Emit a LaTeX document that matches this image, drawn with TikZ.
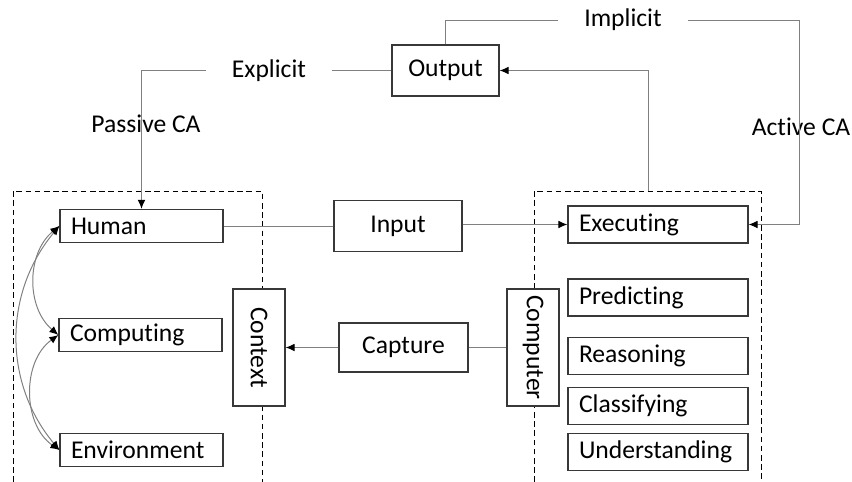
\documentclass[tikz,border=0pt]{standalone}
\usepackage{fontspec}
\setmainfont[Ligatures=NoCommon]{Carlito}
\usepackage{xcolor}
\usetikzlibrary{
	arrows.meta,    % punte Latex
	calc
}
\definecolor{boxgray}{gray}{0.22}
\definecolor{linegray}{gray}{0.5}

\begin{document}
\begin{tikzpicture}[
	x=0.5pt, y=-0.5pt,
	>={Latex[length=4.5pt,width=3.8pt,color=black]},
	font=\fontsize{12.8}{15}\selectfont,
	box/.style={draw=boxgray, line width=0.6pt, fill=white, inner sep=0pt, align=center},
	leftbox/.style={box, text width=70.5pt, align=left, inner xsep=5.5pt, minimum height=16.5pt},
	rightbox/.style={box, text width=79pt, align=left, inner xsep=5.5pt, minimum height=18.5pt},
	vbox/.style={box, rotate=-90, minimum width=58.5pt, minimum height=26pt},
	link/.style={draw=linegray, line width=0.5pt},
	area/.style={line width=0.5pt, dash pattern=on 2.8pt off 1.8pt},
	gap_label/.style={inner xsep=13pt, inner ysep=2pt}
	]
	
	\useasboundingbox (0,0) rectangle (852,482);
	
	% --- Aree tratteggiate ---
	\draw[area] (13,482) -- (13,191) -- (262,191) -- (262,482);
	\draw[area] (534,482) -- (534,191) -- (761,191) -- (761,482);
	
	% --- Lato sinistro ---
	\node[leftbox] (human) at (141.5,226) {Human};
	\node[leftbox] (computing) at (140.5,335) {Computing};
	\node[leftbox] (environment) at (141.5,450) {Environment};
	\node[vbox] (context) at (259,347.5) {Context};
	
	% --- Centro ---
	\node[box, minimum width=64pt, minimum height=25.5pt] (input) at (398,226) {Input};
	\node[box, minimum width=64.5pt, minimum height=24.5pt] (capture) at (403.5,347.5) {Capture};
	\node[box, minimum width=53.5pt, minimum height=25.5pt] (output) at (445.5,70.5) {Output};
	
	% --- Lato destro ---
	\node[vbox] (computer) at (533,347.5) {Computer};
	\node[rightbox] (executing) at (658,224.5) {Executing};
	\node[rightbox] (predicting) at (658,297.5) {Predicting};
	\node[rightbox] (reasoning) at (658,356) {Reasoning};
	\node[rightbox] (classifying) at (658,406) {Classifying};
	\node[rightbox] (understanding) at (658,452) {Understanding};
	
	% --- Etichette ---
	\node[gap_label] (explicit) at (269,70.5) {Explicit};
	\node[gap_label] (implicit) at (623,20) {Implicit};
	\node (passive) at (146,124) {Passive CA};
	\node (active) at (801,127) {Active CA};
	
	% --- Collegamenti ---
	\draw[link] (output.west) -- (explicit.east);
	\draw[link,->] (explicit.west) -| (human.north);
	\draw[link] (output.north) |- (implicit.west);
	\coordinate (activecorner) at (799,20);
	\draw[link,->] (implicit.east) -- (activecorner) |- (executing.east);
	\coordinate (computertop) at (648,191);
	\draw[link,->] (computertop) |- (output.east);
	\draw[link] (human.east) -- (input.west);
	\draw[link,->] (input.east |- executing.west) -- (executing.west);
	\draw[link,->] (capture.west) -- (context.north);
	\draw[link] (capture.east) -- (computer.south);
	
	% Frecce curve tra Human, Computing e Environment
	\draw[link,<->] (human.west) to[bend right=50] (computing.west);
	\draw[link,<->] (computing.west) to[bend right=55] (environment.west);
	\draw[link,<->] (human.west) to[bend right=40] (environment.west);
\end{tikzpicture}
\end{document}
